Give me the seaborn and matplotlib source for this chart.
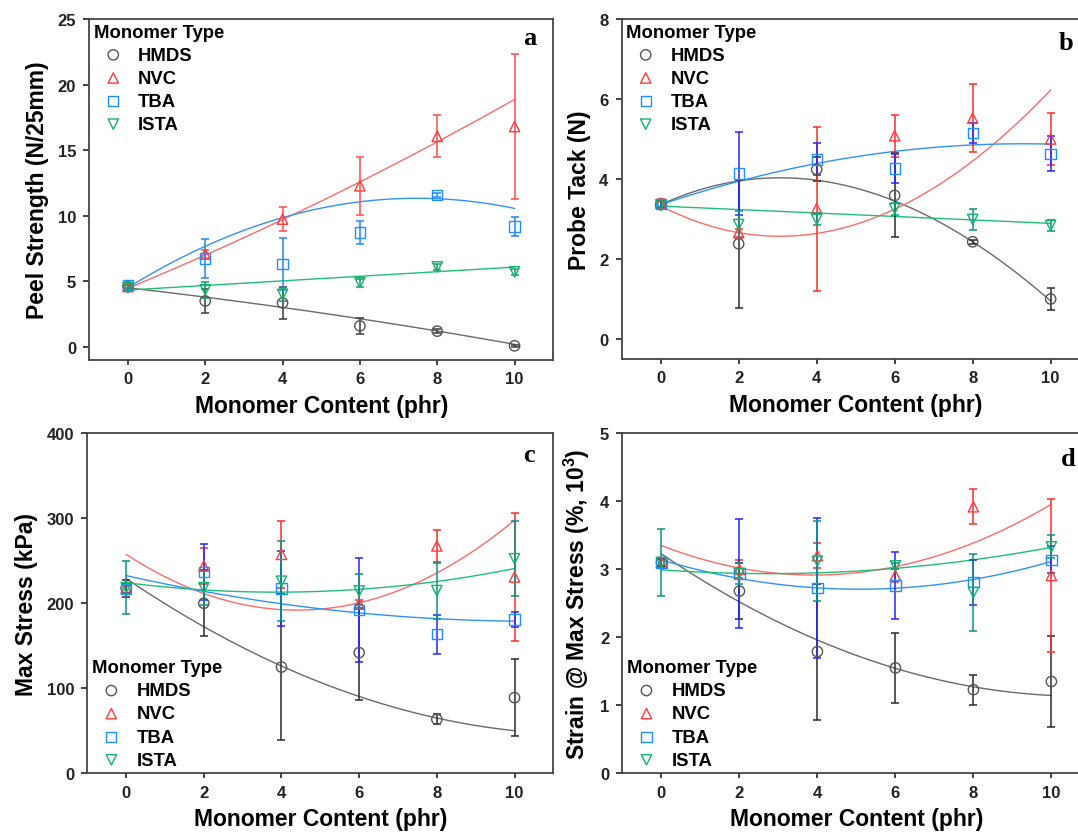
import numpy as np
import matplotlib
matplotlib.use("Agg")
import matplotlib.pyplot as plt
import seaborn as sns

# ---------------- data ----------------
x_phr = [0, 2, 4, 6, 8, 10]
monomers = ["HMDS", "NVC", "TBA", "ISTA"]

# (a) Peel strength (N/25mm)
peel_mean_hmds = [4.6, 3.5, 3.35, 1.6, 1.2, 0.08]
peel_err_hmds = [0.15, 0.9, 1.2, 0.63, 0.15, 0.1]
peel_fit_hmds = [4.5, 3.8, 3.0, 2.15, 1.2, 0.2]
peel_mean_nvc = [4.6, 7.07, 9.74, 12.28, 16.05, 16.8]
peel_err_nvc = [0.2, 0.3, 0.9, 2.2, 1.6, 5.5]
peel_fit_nvc = [4.45, 7.0, 9.8, 12.5, 15.6, 18.9]
peel_mean_tba = [4.7, 6.74, 6.3, 8.72, 11.57, 9.18]
peel_err_tba = [0.2, 1.45, 2.0, 0.9, 0.15, 0.72]
peel_fit_tba = [4.5, 7.7, 9.87, 11.0, 11.34, 10.55]
peel_mean_ista = [4.5, 4.35, 4.0, 4.9, 6.1, 5.72]
peel_err_ista = [0.2, 0.6, 0.5, 0.3, 0.2, 0.25]
peel_fit_ista = [4.35, 4.7, 5.0, 5.35, 5.75, 6.1]

# (b) Probe tack (N)
tack_mean_hmds = [3.36, 2.38, 4.24, 3.59, 2.43, 1.0]
tack_err_hmds = [0.1, 1.6, 0.3, 1.05, 0.05, 0.28]
tack_fit_hmds = [3.36, 3.95, 3.95, 3.49, 2.4, 0.96]
tack_mean_nvc = [3.4, 2.66, 3.26, 5.08, 5.52, 5.0]
tack_err_nvc = [0.1, 0.1, 2.05, 0.53, 0.85, 0.65]
tack_fit_nvc = [3.33, 2.66, 2.63, 3.26, 4.44, 6.23]
tack_mean_tba = [3.37, 4.14, 4.49, 4.26, 5.15, 4.63]
tack_err_tba = [0.1, 1.04, 0.4, 0.36, 0.25, 0.44]
tack_fit_tba = [3.35, 3.95, 4.4, 4.68, 4.84, 4.88]
tack_mean_ista = [3.35, 2.86, 2.99, 3.26, 2.99, 2.84]
tack_err_ista = [0.1, 0.33, 0.15, 0.15, 0.26, 0.13]
tack_fit_ista = [3.32, 3.24, 3.15, 3.06, 2.98, 2.89]

# (c) Max stress (kPa)
stress_mean_hmds = [218, 200, 125, 142, 63.5, 89]
stress_err_hmds = [10, 39, 86, 56, 6, 45]
stress_fit_hmds = [229, 173, 126, 90, 65.5, 50]
stress_mean_nvc = [217.6, 244, 257.6, 199, 267.5, 231]
stress_err_nvc = [5, 21, 39, 5, 19, 75]
stress_fit_nvc = [257.6, 211.8, 192, 200.8, 236, 297.6]
stress_mean_tba = [217, 237, 217.6, 192, 163.5, 181]
stress_err_tba = [5, 33, 44, 61, 23, 8.7]
stress_fit_tba = [232.5, 214.5, 198.8, 189, 182, 179]
stress_mean_ista = [218.4, 218.4, 226, 214.5, 215, 252.5]
stress_err_ista = [31, 20, 47, 20, 33, 44]
stress_fit_ista = [224.3, 215.7, 213.3, 216.5, 225.5, 241]

# (d) Strain at max stress (%, 10^3)
strain_mean_hmds = [3.1, 2.68, 1.79, 1.55, 1.23, 1.35]
strain_err_hmds = [0.05, 0.41, 1.0, 0.51, 0.22, 0.67]
strain_fit_hmds = [3.22, 2.53, 1.97, 1.53, 1.27, 1.15]
strain_mean_nvc = [3.1, 3.0, 3.2, 2.91, 3.92, 2.91]
strain_err_nvc = [0.05, 0.13, 0.18, 0.1, 0.26, 1.12]
strain_fit_nvc = [3.35, 3.02, 2.91, 3.05, 3.38, 3.96]
strain_mean_tba = [3.1, 2.94, 2.73, 2.76, 2.81, 3.14]
strain_err_tba = [0.05, 0.8, 1.03, 0.49, 0.33, 0.2]
strain_fit_tba = [3.14, 2.86, 2.73, 2.73, 2.84, 3.12]
strain_mean_ista = [3.1, 2.94, 3.12, 3.05, 2.66, 3.33]
strain_err_ista = [0.49, 0.15, 0.59, 0.05, 0.57, 0.17]
strain_fit_ista = [2.99, 2.95, 2.94, 3.01, 3.15, 3.32]

# ---------------- style ----------------
sns.set_theme(style="ticks")
plt.rcParams['font.family'] = ['Liberation Sans', 'DejaVu Sans']
plt.rcParams['font.weight'] = 'bold'
plt.rcParams['axes.labelweight'] = 'bold'
plt.rcParams['text.color'] = 'black'
plt.rcParams['axes.labelcolor'] = 'black'
plt.rcParams['xtick.color'] = '#222222'
plt.rcParams['ytick.color'] = '#222222'
plt.rcParams['mathtext.fontset'] = 'custom'
plt.rcParams['mathtext.rm'] = 'Liberation Sans:bold'
plt.rcParams['mathtext.bf'] = 'Liberation Sans:bold'
plt.rcParams['mathtext.default'] = 'bf'

markers = ['o', '^', 's', 'v']
mark_colors = ['#555555', '#ff3b3b', '#1f8fff', '#10b46a']
fit_colors = ['#6a6a6a', '#ff6b6b', '#2f93f5', '#1fbf78']
err_colors_a = ['#3a3a3a', '#ff4a4a', '#1f86f0', '#1a9a66']
err_colors_bcd = ['#2a2a2a', '#ff2a2a', '#2424ff', '#079488']

fig = plt.figure(figsize=(10.78, 8.37), dpi=100)

panels = [
    dict(pos=[0.0828, 0.5687, 0.4304, 0.4074],
         means=[peel_mean_hmds, peel_mean_nvc, peel_mean_tba, peel_mean_ista],
         errs=[peel_err_hmds, peel_err_nvc, peel_err_tba, peel_err_ista],
         fits=[peel_fit_hmds, peel_fit_nvc, peel_fit_tba, peel_fit_ista],
         orders=[2, 2, 2, 1], ecol=err_colors_a,
         ylim=(-1, 25), yticks=[0, 5, 10, 15, 20, 25],
         ylabel="Peel Strength (N/25mm)", letter="a", lpos=(0.95, 0.947),
         loc="upper left"),
    dict(pos=[0.5767, 0.5699, 0.4341, 0.4062],
         means=[tack_mean_hmds, tack_mean_nvc, tack_mean_tba, tack_mean_ista],
         errs=[tack_err_hmds, tack_err_nvc, tack_err_tba, tack_err_ista],
         fits=[tack_fit_hmds, tack_fit_nvc, tack_fit_tba, tack_fit_ista],
         orders=[3, 3, 2, 1], ecol=err_colors_bcd,
         ylim=(-0.5, 8), yticks=[0, 2, 4, 6, 8],
         ylabel="Probe Tack (N)", letter="b", lpos=(0.95, 0.932),
         loc="upper left"),
    dict(pos=[0.0810, 0.0749, 0.4323, 0.4062],
         means=[stress_mean_hmds, stress_mean_nvc, stress_mean_tba, stress_mean_ista],
         errs=[stress_err_hmds, stress_err_nvc, stress_err_tba, stress_err_ista],
         fits=[stress_fit_hmds, stress_fit_nvc, stress_fit_tba, stress_fit_ista],
         orders=[2, 2, 2, 2], ecol=err_colors_bcd,
         ylim=(0, 400), yticks=[0, 100, 200, 300, 400],
         ylabel="Max Stress (kPa)", letter="c", lpos=(0.947, 0.939),
         loc="lower left"),
    dict(pos=[0.5774, 0.0749, 0.4341, 0.4062],
         means=[strain_mean_hmds, strain_mean_nvc, strain_mean_tba, strain_mean_ista],
         errs=[strain_err_hmds, strain_err_nvc, strain_err_tba, strain_err_ista],
         fits=[strain_fit_hmds, strain_fit_nvc, strain_fit_tba, strain_fit_ista],
         orders=[2, 3, 2, 2], ecol=err_colors_bcd,
         ylim=(0, 5), yticks=[0, 1, 2, 3, 4, 5],
         ylabel=r"Strain @ Max Stress (%, 10$^{3}$)", letter="d", lpos=(0.953, 0.926),
         loc="lower left"),
]

xarr = np.array(x_phr, dtype=float)
for p in panels:
    ax = fig.add_axes(p['pos'])
    for i, m in enumerate(monomers):
        sns.regplot(x=xarr, y=np.array(p['fits'][i], dtype=float), order=p['orders'][i],
                    scatter=False, ci=None, truncate=True, ax=ax,
                    line_kws=dict(color=fit_colors[i], lw=1.0, zorder=2))
        ax.errorbar(x_phr, p['means'][i], yerr=p['errs'][i], fmt='none',
                    ecolor=p['ecol'][i], elinewidth=1.1, capsize=3.2, capthick=1.1, zorder=3)
        sns.scatterplot(x=x_phr, y=p['means'][i], marker=markers[i], s=55,
                        facecolors='none', edgecolor=mark_colors[i], linewidth=1.0,
                        label=m, ax=ax, zorder=4)
    ax.set_xlim(-1, 11)
    ax.set_ylim(*p['ylim'])
    ax.set_xticks(x_phr)
    ax.set_yticks(p['yticks'])
    ax.set_xlabel("Monomer Content (phr)", fontsize=16.5, fontweight='bold', labelpad=5.5)
    ax.set_ylabel(p['ylabel'], fontsize=16.5, fontweight='bold', labelpad=6)
    for s in ax.spines.values():
        s.set_visible(True)
        s.set_color('#444444')
        s.set_linewidth(1.3)
    ax.tick_params(axis='x', which='major', direction='out', length=3.7, width=1.2,
                   labelsize=12, pad=4.5, bottom=True, top=False)
    ax.tick_params(axis='y', which='major', direction='out', length=4.5, width=1.2,
                   labelsize=12, pad=5, left=True, right=False)
    for lab in ax.get_xticklabels() + ax.get_yticklabels():
        lab.set_fontweight('bold')
    ax.text(p['lpos'][0], p['lpos'][1], p['letter'], transform=ax.transAxes, fontsize=19,
            fontweight='bold', family='Liberation Serif', ha='center', va='center')
    h, l = ax.get_legend_handles_labels()
    ax.legend(h, l, title="Monomer Type", loc=p['loc'], frameon=False, fontsize=13.3,
              title_fontproperties={'weight': 'bold', 'size': 13.3}, alignment='left',
              handlelength=2.1, handletextpad=0.3, labelspacing=0.33,
              borderpad=0.1, borderaxespad=0.15)

fig.savefig("out.png", dpi=100)
